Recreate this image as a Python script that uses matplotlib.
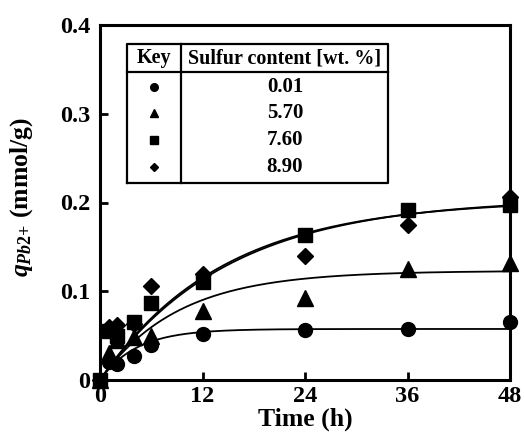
import numpy as np
import matplotlib
matplotlib.use("Agg")
import matplotlib.pyplot as plt
from matplotlib.lines import Line2D

plt.rcParams["font.family"] = ["Liberation Serif", "DejaVu Serif"]
plt.rcParams["font.weight"] = "bold"
plt.rcParams["mathtext.fontset"] = "custom"
plt.rcParams["mathtext.it"] = "Liberation Serif:italic:bold"
plt.rcParams["mathtext.rm"] = "Liberation Serif:bold"
plt.rcParams["mathtext.bf"] = "Liberation Serif:bold"

# measured uptake, mmol/g
time_h = [0, 1, 2, 4, 6, 12, 24, 36, 48]
q_s001 = [0, 0.020, 0.018, 0.027, 0.040, 0.052, 0.056, 0.057, 0.065]
q_s570 = [0, 0.030, 0.045, 0.048, 0.050, 0.078, 0.092, 0.125, 0.132]
q_s760 = [0, 0.055, 0.050, 0.065, 0.087, 0.110, 0.163, 0.192, 0.197]
q_s890 = [0, 0.060, 0.062, 0.063, 0.106, 0.120, 0.140, 0.175, 0.206]

# pseudo-first-order fit parameters (qe in mmol/g, k in 1/h)
fit_qe = [0.0575, 0.123, 0.205, 0.203]
fit_k = [0.234, 0.11, 0.067, 0.070]

sulfur_labels = ["0.01", "5.70", "7.60", "8.90"]
markers = ["o", "^", "s", "D"]
msizes = [10, 11, 10, 8]

series = [q_s001, q_s570, q_s760, q_s890]

fig = plt.figure(figsize=(5.24, 4.41), dpi=100)
ax = fig.add_axes([100 / 524, 1 - 380 / 441, 410 / 524, 355 / 441])

t_fit = np.linspace(0, 48, 400)
for qe, k in zip(fit_qe, fit_k):
    q_fit = qe * (1 - np.exp(-k * t_fit))
    ax.plot(t_fit, q_fit, color="black", lw=1.3, zorder=2)

for q, m, ms in zip(series, markers, msizes):
    ax.plot(time_h, q, linestyle="none", marker=m, ms=ms, color="black",
            clip_on=False, zorder=3)

ax.set_xlim(0, 48)
ax.set_ylim(0, 0.4)
ax.set_xticks([0, 12, 24, 36, 48])
ax.set_yticks([0, 0.1, 0.2, 0.3, 0.4])
ax.set_yticklabels(["0", "0.1", "0.2", "0.3", "0.4"])
ax.tick_params(direction="in", length=6, width=2, labelsize=17.5, pad=4)
ax.tick_params(axis="y", pad=7)
for s in ax.spines.values():
    s.set_linewidth(2.2)

ax.set_xlabel("Time (h)", fontsize=18.5, fontweight="bold", labelpad=1)
ax.set_ylabel(r"$q_{Pb2{+}}$ (mmol/g)", fontsize=18.5, fontweight="bold")
ax.yaxis.set_label_coords(-0.158, 0.515)

# key table
x0, x1 = 0.066, 0.702
y0, y1 = 0.555, 0.9465
ylh, xdiv = 0.8676, 0.1976
tr = ax.transAxes
box_kw = dict(color="black", lw=1.6, transform=tr, clip_on=False, zorder=4)
ax.add_line(Line2D([x0, x1, x1, x0, x0], [y0, y0, y1, y1, y0], **box_kw))
ax.add_line(Line2D([x0, x1], [ylh, ylh], **box_kw))
ax.add_line(Line2D([xdiv, xdiv], [y0, y1], **box_kw))
ax.text((x0 + xdiv) / 2, 0.907, "Key", transform=tr, ha="center",
        va="center", fontsize=14.5, fontweight="bold")
ax.text(0.45, 0.907, "Sulfur content [wt. %]", transform=tr, ha="center",
        va="center", fontsize=14.5, fontweight="bold")
row_y = [0.825, 0.752, 0.676, 0.600]
key_ms = [5.5, 6, 5.5, 4.5]
for yy, lab, m, ms in zip(row_y, sulfur_labels, markers, key_ms):
    ax.plot([(x0 + xdiv) / 2], [yy], marker=m, ms=ms, color="black",
            transform=tr, clip_on=False, zorder=5)
    ax.text(0.451, yy, lab, transform=tr, ha="center", va="center",
            fontsize=15, fontweight="bold")

fig.savefig("out.png", dpi=100)
